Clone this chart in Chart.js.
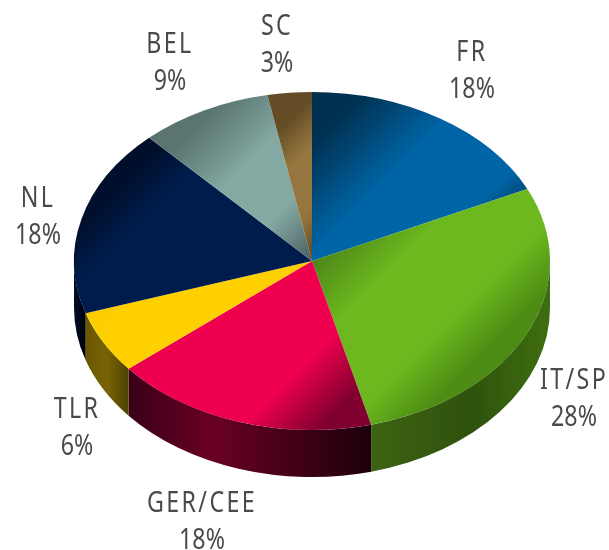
<!DOCTYPE html>
<html>
<head>
<meta charset="utf-8">
<style>html,body{margin:0;padding:0;background:#fff}#w{position:relative;width:609px;height:550px}</style>
<script src="https://cdn.jsdelivr.net/npm/chart.js@4"></script>
</head>
<body>
<div id="w"><canvas id="c" width="609" height="550"></canvas></div>
<script>
const categories = ['FR','IT/SP','GER/CEE','TLR','NL','BEL','SC'];
const shares = [18,28,18,6,18,9,3];
const topStart = ['#00304f','#4c8518','#dc0046','#f6c800','#000f2c','#5a7471','#644d26'];
const topBright = ['#0065a6','#6cb81e','#ee004e','#ffd000','#001c4c','#84a9a3','#96763f'];
const topEnd = ['#003f68','#4d8c14','#80002f','#f8ca00','#001a46','#4a5f60','#5a4520'];
const brightFrom = [0.4,0.32,0.2,0.3,0.2,0.36,0.28];
const brightTo = [0.8,0.74,0.72,0.9,1.0,0.68,0.68];
const sideLeft = ['#003050','#3d6312','#3a0018','#6b5600','#000f28','#4c625f','#53401e'];
const sideMid = ['#003050','#2e520d','#6a0025','#786405','#00081a','#4c625f','#53401e'];
const sideRight = ['#003050','#3f6e10','#1c000c','#4d4000','#000000','#4c625f','#53401e'];
const sideMidAt = [0.5,0.55,0.35,0.5,0.5,0.5,0.5];
const labelX = [472,574,202,77,38,170,277];
const labelY = [61,389,512,418,207,53,35];
const LINE = 37;
const PIE = {cx:312, cy:261, r:238, k:0.71, depth:47};
const total = shares.reduce((a,b)=>a+b,0);

function sliceRange(i){
  let s=0; for(let j=0;j<i;j++) s+=shares[j];
  return [s/total*2*Math.PI,(s+shares[i])/total*2*Math.PI];
}
function sliceFill(ctx){
  const i=ctx.dataIndex; if(i===undefined) return '#000';
  const c=ctx.chart, x=c.width/2, y=c.height/2, k=PIE.k, R=PIE.r;
  const [a0,a1]=sliceRange(i);
  let lo=0, hi=0;
  for(let n=0;n<=40;n++){
    const a=a0+(a1-a0)*n/40, t=R*Math.sin(a)+k*(-R*Math.cos(a))*k;
    lo=Math.min(lo,t); hi=Math.max(hi,t);
  }
  const q=1+k*k;
  const g=c.ctx.createLinearGradient(x+lo/q,y+k*lo/q,x+hi/q,y+k*hi/q);
  g.addColorStop(0,topStart[i]); g.addColorStop(brightFrom[i],topBright[i]);
  g.addColorStop(brightTo[i],topBright[i]); g.addColorStop(1,topEnd[i]);
  return g;
}
const pie3d = {
  id:'pie3d',
  beforeDatasetsDraw(chart){
    const ctx=chart.ctx, cx=chart.width/2, cy=chart.height/2;
    ctx.save();
    ctx.translate(PIE.cx,PIE.cy); ctx.scale(1,PIE.k); ctx.translate(-cx,-cy);
    const meta=chart.getDatasetMeta(0), R=PIE.r, d=PIE.depth/PIE.k;
    meta.data.forEach((el,i)=>{
      const p=el.getProps(['startAngle','endAngle','x','y'],true);
      let a=p.startAngle, b=p.endAngle;
      while(a<-1e-6){a+=2*Math.PI;b+=2*Math.PI;}
      const spans=[[a,Math.min(b,Math.PI)],[Math.max(a,2*Math.PI),Math.min(b,3*Math.PI)]];
      spans.forEach(([s,e])=>{
        if(e<=s) return;
        const x1=p.x+R*Math.cos(s), x2=p.x+R*Math.cos(e);
        const g=ctx.createLinearGradient(Math.min(x1,x2),0,Math.max(x1,x2),0);
        g.addColorStop(0,sideLeft[i]); g.addColorStop(sideMidAt[i],sideMid[i]); g.addColorStop(1,sideRight[i]);
        ctx.beginPath();
        ctx.arc(p.x,p.y,R,s,e,false);
        ctx.lineTo(p.x+R*Math.cos(e),p.y+R*Math.sin(e)+d);
        ctx.arc(p.x,p.y+d,R,e,s,true);
        ctx.closePath();
        ctx.fillStyle=g; ctx.fill();
      });
    });
  },
  afterDatasetsDraw(chart){ chart.ctx.restore(); },
  afterDraw(chart){
    const ctx=chart.ctx;
    ctx.fillStyle='#4a4a4a';
    ctx.textAlign='center'; ctx.textBaseline='alphabetic';
    ctx.font='29px "Noto Sans"';
    categories.forEach((name,i)=>{
      ctx.save();
      ctx.translate(labelX[i],labelY[i]);
      ctx.scale(0.8,1);
      ctx.letterSpacing='3px';
      ctx.fillText(name,0,0);
      ctx.letterSpacing='0px';
      ctx.fillText(shares[i]+'%',0,LINE);
      ctx.restore();
    });
  }
};
new Chart(document.getElementById('c'),{
  type:'pie',
  data:{labels:categories,datasets:[{data:shares,backgroundColor:sliceFill,borderWidth:0,clip:false}]},
  options:{
    responsive:false,animation:false,radius:PIE.r,
    layout:{padding:0},
    plugins:{legend:{display:false},tooltip:{enabled:false},title:{display:false}}
  },
  plugins:[pie3d]
});
</script>
</body>
</html>
